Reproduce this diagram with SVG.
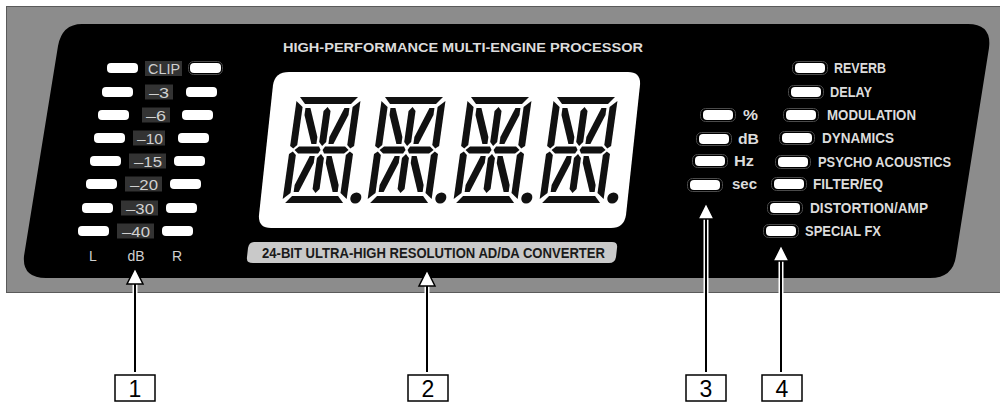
<svg xmlns="http://www.w3.org/2000/svg" xmlns:xlink="http://www.w3.org/1999/xlink" width="1000" height="406" viewBox="0 0 1000 406">
<style>
.led{fill:#fff}
.ring{fill:none;stroke:#4a4a4a;stroke-width:1}
.lbox{fill:#333}
.lt{font-family:"Liberation Sans",Arial,sans-serif;font-size:15px;fill:#d0d0d0}
.lb{font-family:"Liberation Sans",Arial,sans-serif;font-size:14px;fill:#d0d0d0;text-anchor:middle}
.pt{font-family:"Liberation Sans",Arial,sans-serif;font-size:14px;font-weight:bold;fill:#dcdcdc}
.seg{fill:#111}
.shaft-w{stroke:#fff;stroke-width:5}
.shaft{stroke:#000;stroke-width:2}
.head{fill:#fff;stroke:#000;stroke-width:1.5;stroke-linejoin:miter}
.nbox{fill:#fff;stroke:#000;stroke-width:1.5}
.nt{font-family:"Liberation Sans",Arial,sans-serif;font-size:23px;fill:#000;text-anchor:middle}
</style>
<defs>
<g id="digit" class="seg">
<polygon points="3,0 61,0 55,7 9,7"/>
<polygon points="3,106 61,106 55,99 9,99"/>
<polygon points="0,4 7,10 7,48 3.5,51.5 0,49"/>
<polygon points="0,102 7,96 7,58 3.5,54.5 0,57"/>
<polygon points="64,4 57,10 57,48 60.5,51.5 64,49"/>
<polygon points="64,102 57,96 57,58 60.5,54.5 64,57"/>
<polygon points="5,53 9,49.5 29,49.5 31,53 29,56.5 9,56.5"/>
<polygon points="33,53 35,49.5 55,49.5 59,53 55,56.5 35,56.5"/>
<polygon points="32,10 35.5,14 35.5,45 32,49 28.5,45 28.5,14"/>
<polygon points="32,57 35.5,61 35.5,92 32,96 28.5,92 28.5,61"/>
<polygon points="10,11 15,11 26,40 26,47 21,47 10,18"/>
<polygon points="54,11 49,11 38,40 38,47 43,47 54,18"/>
<polygon points="10,95 15,95 26,66 26,59 21,59 10,88"/>
<polygon points="54,95 49,95 38,66 38,59 43,59 54,88"/>
<circle cx="73" cy="101" r="5.5"/>
</g>
</defs>

<g id="panel">
<rect x="6.5" y="6.5" width="1000" height="286" fill="#8c8c8c" stroke="#5a5a5a" stroke-width="1"/>
<path d="M 82,24 L 968,24 Q 992,24 989,48 L 956,256 Q 953,278 930,278 L 46,278 Q 22,278 24,256 L 58,46 Q 62,24 82,24 Z" fill="#000"/>
</g>

<g id="level-meter">
<rect class="led" x="107" y="63" width="31" height="10" rx="4"/>
<rect class="led" x="102" y="87" width="31" height="10" rx="4"/>
<rect class="led" x="98" y="110" width="31" height="10" rx="4"/>
<rect class="led" x="94" y="133" width="31" height="10" rx="4"/>
<rect class="led" x="90" y="156" width="31" height="10" rx="4"/>
<rect class="led" x="86" y="179" width="31" height="10" rx="4"/>
<rect class="led" x="82" y="203" width="31" height="10" rx="4"/>
<rect class="led" x="78" y="226" width="31" height="10" rx="4"/>

<rect class="ring" x="188.5" y="61.5" width="34" height="13" rx="5"/>
<rect class="led" x="190" y="63" width="31" height="10" rx="4"/>
<rect class="led" x="186" y="87" width="31" height="10" rx="4"/>
<rect class="led" x="182" y="110" width="31" height="10" rx="4"/>
<rect class="led" x="178" y="133" width="31" height="10" rx="4"/>
<rect class="led" x="174" y="156" width="31" height="10" rx="4"/>
<rect class="led" x="170" y="179" width="31" height="10" rx="4"/>
<rect class="led" x="166" y="203" width="31" height="10" rx="4"/>
<rect class="led" x="162" y="226" width="31" height="10" rx="4"/>

<rect class="lbox" x="145" y="61" width="37" height="15"/>
<rect class="lbox" x="145" y="84.5" width="28" height="15"/>
<rect class="lbox" x="142" y="107.5" width="28" height="15"/>
<rect class="lbox" x="133" y="130.5" width="32" height="15"/>
<rect class="lbox" x="129" y="153.5" width="37" height="15"/>
<rect class="lbox" x="125" y="176.5" width="37" height="15"/>
<rect class="lbox" x="121" y="200.5" width="37" height="15"/>
<rect class="lbox" x="117" y="223.5" width="37" height="15"/>

<text class="lt" x="148" y="74" textLength="32" lengthAdjust="spacingAndGlyphs">CLIP</text>
<text class="lt" x="149" y="97.5" textLength="20" lengthAdjust="spacingAndGlyphs">–3</text>
<text class="lt" x="146" y="120.5" textLength="20" lengthAdjust="spacingAndGlyphs">–6</text>
<text class="lt" x="137" y="143.5" textLength="26" lengthAdjust="spacingAndGlyphs">–10</text>
<text class="lt" x="134" y="166.5" textLength="28" lengthAdjust="spacingAndGlyphs">–15</text>
<text class="lt" x="130" y="189.5" textLength="28" lengthAdjust="spacingAndGlyphs">–20</text>
<text class="lt" x="126" y="213.5" textLength="28" lengthAdjust="spacingAndGlyphs">–30</text>
<text class="lt" x="122" y="236.5" textLength="28" lengthAdjust="spacingAndGlyphs">–40</text>

<text class="lb" x="93" y="261">L</text>
<text class="lb" x="136" y="261">dB</text>
<text class="lb" x="177" y="261">R</text>
</g>

<g id="display">
<text x="283" y="52" font-family="'Liberation Sans',Arial,sans-serif" font-size="13.5" font-weight="bold" fill="#dcdcdc" textLength="360" lengthAdjust="spacingAndGlyphs">HIGH-PERFORMANCE MULTI-ENGINE PROCESSOR</text>
<path d="M 289,72 L 628,72 Q 641,72 640,85 L 626,215 Q 624,228 611,228 L 271,228 Q 258,228 259,215 L 273,85 Q 275,72 289,72 Z" fill="#fff"/>
<use xlink:href="#digit" transform="translate(297,97) skewX(-8)"/>
<use xlink:href="#digit" transform="translate(382,97) skewX(-8)"/>
<use xlink:href="#digit" transform="translate(468,97) skewX(-8)"/>
<use xlink:href="#digit" transform="translate(554,97) skewX(-8)"/>
<path d="M 254,242 L 612,242 Q 618,242 617,248 L 616,257 Q 615,263 609,263 L 253,263 Q 246,263 247,257 L 248,248 Q 249,242 254,242 Z" fill="#c9c9c9"/>
<text x="262" y="258" font-family="'Liberation Sans',Arial,sans-serif" font-size="14" font-weight="bold" fill="#1a1a1a" textLength="343" lengthAdjust="spacingAndGlyphs">24-BIT ULTRA-HIGH RESOLUTION AD/DA CONVERTER</text>
</g>

<g id="units">
<rect class="ring" x="700.5" y="108.5" width="35" height="13" rx="5"/>
<rect class="led" x="703" y="110" width="30" height="10" rx="4"/>
<rect class="ring" x="696.5" y="132.5" width="35" height="13" rx="5"/>
<rect class="led" x="699" y="134" width="30" height="10" rx="4"/>
<rect class="ring" x="692.5" y="154.5" width="35" height="13" rx="5"/>
<rect class="led" x="695" y="156" width="30" height="10" rx="4"/>
<rect class="ring" x="687.5" y="178.5" width="35" height="13" rx="5"/>
<rect class="led" x="690" y="180" width="30" height="10" rx="4"/>
<text class="pt" x="743" y="120" textLength="15" lengthAdjust="spacingAndGlyphs">%</text>
<text class="pt" x="738" y="144" textLength="21" lengthAdjust="spacingAndGlyphs">dB</text>
<text class="pt" x="734" y="166" textLength="20" lengthAdjust="spacingAndGlyphs">Hz</text>
<text class="pt" x="732" y="189" textLength="25" lengthAdjust="spacingAndGlyphs">sec</text>
</g>

<g id="effects">
<rect class="ring" x="792.5" y="61.5" width="35" height="13" rx="5"/>
<rect class="led" x="795" y="63" width="30" height="10" rx="4"/>
<rect class="ring" x="788.5" y="85.5" width="35" height="13" rx="5"/>
<rect class="led" x="791" y="87" width="30" height="10" rx="4"/>
<rect class="ring" x="783.5" y="108.5" width="35" height="13" rx="5"/>
<rect class="led" x="786" y="110" width="30" height="10" rx="4"/>
<rect class="ring" x="779.5" y="131.5" width="35" height="13" rx="5"/>
<rect class="led" x="782" y="133" width="30" height="10" rx="4"/>
<rect class="ring" x="775.5" y="155.5" width="35" height="13" rx="5"/>
<rect class="led" x="778" y="157" width="30" height="10" rx="4"/>
<rect class="ring" x="771.5" y="177.5" width="35" height="13" rx="5"/>
<rect class="led" x="774" y="179" width="30" height="10" rx="4"/>
<rect class="ring" x="767.5" y="201.5" width="35" height="13" rx="5"/>
<rect class="led" x="770" y="203" width="30" height="10" rx="4"/>
<rect class="ring" x="763.5" y="224.5" width="35" height="13" rx="5"/>
<rect class="led" x="766" y="226" width="30" height="10" rx="4"/>
<text class="pt" x="834" y="73" textLength="52" lengthAdjust="spacingAndGlyphs">REVERB</text>
<text class="pt" x="830" y="97" textLength="42" lengthAdjust="spacingAndGlyphs">DELAY</text>
<text class="pt" x="827" y="120" textLength="89" lengthAdjust="spacingAndGlyphs">MODULATION</text>
<text class="pt" x="822" y="143" textLength="72" lengthAdjust="spacingAndGlyphs">DYNAMICS</text>
<text class="pt" x="818" y="167" textLength="133" lengthAdjust="spacingAndGlyphs">PSYCHO ACOUSTICS</text>
<text class="pt" x="813" y="189" textLength="70" lengthAdjust="spacingAndGlyphs">FILTER/EQ</text>
<text class="pt" x="810" y="213" textLength="118" lengthAdjust="spacingAndGlyphs">DISTORTION/AMP</text>
<text class="pt" x="805" y="236" textLength="76" lengthAdjust="spacingAndGlyphs">SPECIAL FX</text>
</g>

<g id="connectors">
<line class="shaft-w" x1="135" y1="282" x2="135" y2="371"/>
<line class="shaft" x1="135" y1="282" x2="135" y2="372"/>
<polygon class="head" points="135,268 143,284 127,284"/>
<line class="shaft-w" x1="427" y1="284" x2="427" y2="371"/>
<line class="shaft" x1="427" y1="284" x2="427" y2="372"/>
<polygon class="head" points="427,270 435,286 419,286"/>
<line class="shaft-w" x1="706" y1="217" x2="706" y2="371"/>
<line class="shaft" x1="706" y1="217" x2="706" y2="372"/>
<polygon class="head" points="706,203 714,219 698,219"/>
<line class="shaft-w" x1="781" y1="259" x2="781" y2="371"/>
<line class="shaft" x1="781" y1="259" x2="781" y2="372"/>
<polygon class="head" points="781,245 789,261 773,261"/>
</g>

<g id="label-1"><rect class="nbox" x="115" y="375" width="40" height="26"/><text class="nt" x="135" y="397">1</text></g>
<g id="label-2"><rect class="nbox" x="408" y="375" width="40" height="26"/><text class="nt" x="428" y="397">2</text></g>
<g id="label-3"><rect class="nbox" x="686" y="375" width="40" height="26"/><text class="nt" x="706" y="397">3</text></g>
<g id="label-4"><rect class="nbox" x="762" y="375" width="40" height="26"/><text class="nt" x="782" y="397">4</text></g>
</svg>
